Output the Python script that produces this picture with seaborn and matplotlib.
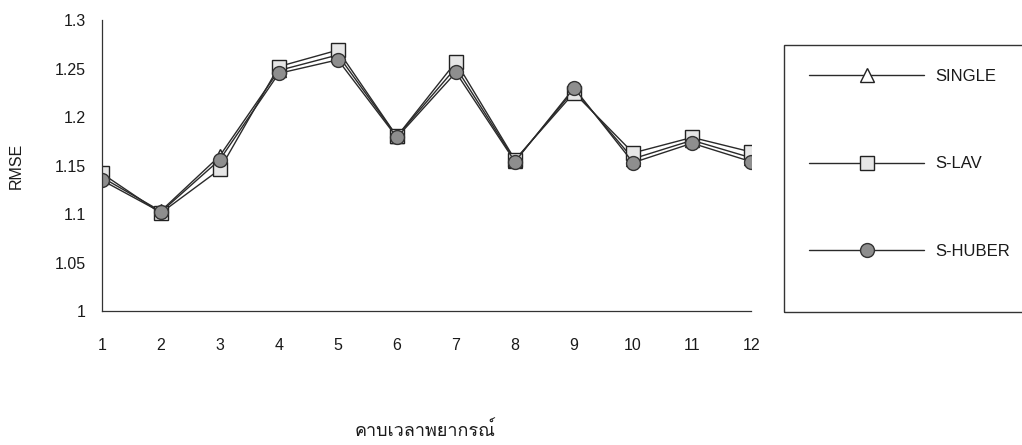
import numpy as np
import pandas as pd
import matplotlib
matplotlib.use("Agg")
import matplotlib.pyplot as plt
from matplotlib import font_manager
from matplotlib.ft2font import FT2Font
from matplotlib.lines import Line2D
from matplotlib.patches import Rectangle
import seaborn as sns

# Forecast horizons and RMSE for each method
horizons = [1, 2, 3, 4, 5, 6, 7, 8, 9, 10, 11, 12]
rmse_single = [1.138, 1.103, 1.160, 1.248, 1.264, 1.180, 1.251, 1.155, 1.228, 1.157, 1.176, 1.158]
rmse_slav = [1.142, 1.101, 1.146, 1.252, 1.269, 1.180, 1.257, 1.156, 1.225, 1.163, 1.179, 1.164]
rmse_shuber = [1.135, 1.102, 1.156, 1.245, 1.259, 1.179, 1.246, 1.154, 1.230, 1.153, 1.173, 1.154]
series_names = ["SINGLE", "S-LAV", "S-HUBER"]
y_ticks = [1, 1.05, 1.1, 1.15, 1.2, 1.25, 1.3]
y_ticklabels = ["1", "1.05", "1.1", "1.15", "1.2", "1.25", "1.3"]
x_label = "คาบเวลาพยากรณ์"
y_label = "RMSE"

sns.set_theme(style="white")

# Pick a narrow sans face for Latin text when one is available
names = {f.name for f in font_manager.fontManager.ttflist}
latin_font = "Liberation Sans Narrow" if "Liberation Sans Narrow" in names else "Liberation Sans"

# Find a face that actually carries Thai glyphs
thai_font = None
for f in font_manager.fontManager.ttflist:
    try:
        cmap = FT2Font(f.fname).get_charmap()
    except Exception:
        continue
    if 0x0E04 in cmap and 0x0E13 in cmap:
        thai_font = f.name
        break
thai_families = ([thai_font] if thai_font else []) + [latin_font, "DejaVu Sans"]

plt.rcParams["font.family"] = [latin_font, "DejaVu Sans"]

df = pd.DataFrame({
    "horizon": horizons * 3,
    "rmse": rmse_single + rmse_slav + rmse_shuber,
    "method": [series_names[0]] * 12 + [series_names[1]] * 12 + [series_names[2]] * 12,
})

fig = plt.figure(figsize=(10.22, 4.45), dpi=100)
ax = fig.add_axes([0.0995, 0.301, 0.6355, 0.654])

line_color = "#2a2a2a"
styles = {
    "SINGLE": dict(marker="^", markerfacecolor="white", markeredgecolor="#222222", markersize=10),
    "S-LAV": dict(marker="s", markerfacecolor="#e6e6e6", markeredgecolor="#222222", markersize=10),
    "S-HUBER": dict(marker="o", markerfacecolor="#8e8e8e", markeredgecolor="#333333", markersize=10),
}

for name in series_names:
    sub = df[df["method"] == name]
    sns.lineplot(data=sub, x="horizon", y="rmse", ax=ax, color=line_color,
                 linewidth=1.0, markeredgewidth=1.0, legend=False, **styles[name])

ax.set_xlim(1, 12)
ax.set_ylim(1, 1.3)
ax.set_xticks(horizons)
ax.set_xticklabels([str(h) for h in horizons], fontsize=11.5)
ax.set_yticks(y_ticks)
ax.set_yticklabels(y_ticklabels, fontsize=11.5)
ax.tick_params(axis="both", direction="inout", length=7, width=0.9, color="#333333",
               labelcolor="#1a1a1a")
ax.tick_params(axis="x", pad=16)
ax.tick_params(axis="y", pad=8)

for side in ["top", "right"]:
    ax.spines[side].set_visible(False)
for side in ["left", "bottom"]:
    ax.spines[side].set_color("#333333")
    ax.spines[side].set_linewidth(0.9)

ax.set_xlabel("")
ax.set_ylabel(y_label, fontsize=11.5, color="#1a1a1a", labelpad=22)
fig.text(0.416, 0.033, x_label, ha="center", va="center", fontsize=13,
         color="#1a1a1a", family=thai_families)

# Legend panel
fig.patches.append(Rectangle((784 / 1022, 1 - 312 / 445), 0.3, (312 - 45) / 445,
                             transform=fig.transFigure, fill=False,
                             edgecolor="#333333", linewidth=1.0))
handles = [Line2D([], [], color=line_color, linewidth=1.0, markeredgewidth=1.0, **styles[n])
           for n in series_names]
leg = fig.legend(handles, series_names, loc="upper left",
                 bbox_to_anchor=(794 / 1022, 1 - 54 / 445), bbox_transform=fig.transFigure,
                 frameon=False, handlelength=6.9, handletextpad=0.65,
                 labelspacing=4.35, fontsize=12)
for t in leg.get_texts():
    t.set_color("#1a1a1a")

fig.savefig("out.png", dpi=100, facecolor="white")
